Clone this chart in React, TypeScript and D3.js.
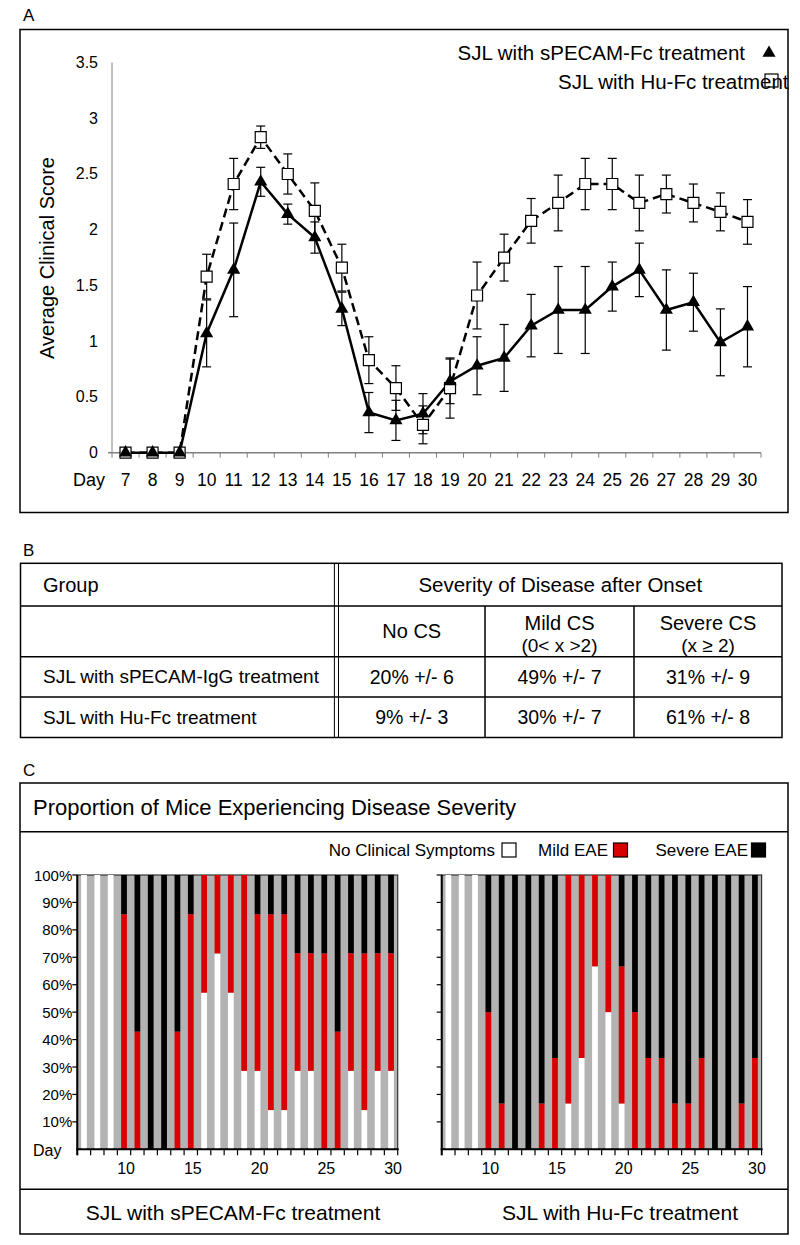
import React, { useEffect, useRef } from 'react';
import * as d3 from 'd3';

// ---- panel A: average clinical score ----
const days = [7, 8, 9, 10, 11, 12, 13, 14, 15, 16, 17, 18, 19, 20, 21, 22, 23, 24, 25, 26, 27, 28, 29, 30];
const fcMean = [0, 0, 0, 1.07, 1.64, 2.43, 2.14, 1.93, 1.29, 0.36, 0.29, 0.35, 0.64, 0.78, 0.85, 1.14, 1.28, 1.28, 1.49, 1.64, 1.28, 1.35, 0.99, 1.13];
const fcErr = [0, 0, 0, 0.3, 0.42, 0.13, 0.09, 0.14, 0.15, 0.18, 0.18, 0.18, 0.2, 0.26, 0.3, 0.28, 0.39, 0.39, 0.22, 0.24, 0.36, 0.26, 0.3, 0.36];
const huMean = [0, 0, 0, 1.58, 2.41, 2.83, 2.5, 2.17, 1.66, 0.83, 0.58, 0.25, 0.58, 1.41, 1.75, 2.08, 2.24, 2.41, 2.41, 2.24, 2.32, 2.24, 2.16, 2.07];
const huErr = [0, 0, 0, 0.2, 0.23, 0.1, 0.18, 0.25, 0.21, 0.21, 0.2, 0.17, 0.27, 0.3, 0.21, 0.2, 0.25, 0.23, 0.23, 0.25, 0.17, 0.17, 0.17, 0.2];
const scoreTicks = [0, 0.5, 1, 1.5, 2, 2.5, 3, 3.5];

// ---- panel B: table ----
const tableCols = ['No CS', 'Mild CS', 'Severe CS'];
const tableSub = ['', '(0< x >2)', '(x \u2265 2)'];
const tableRows = ['SJL with sPECAM-IgG treatment', 'SJL with Hu-Fc treatment'];
const tableVals = [
  ['20% +/- 6', '49% +/- 7', '31% +/- 9'],
  ['9% +/- 3', '30% +/- 7', '61% +/- 8'],
];

// ---- panel C: % of mice per severity (none, mild, severe) ----
const fcNone = [100, 100, 100, 0, 0, 0, 0, 0, 0, 57.1, 71.4, 57.1, 28.6, 28.6, 14.3, 14.3, 28.6, 28.6, 0, 0, 28.6, 14.3, 28.6, 28.6];
const fcMild = [0, 0, 0, 85.7, 42.9, 0, 0, 42.9, 85.7, 42.9, 28.6, 42.9, 71.4, 57.1, 71.4, 71.4, 42.9, 42.9, 71.4, 42.9, 42.9, 57.1, 42.9, 42.9];
const fcSevere = [0, 0, 0, 14.3, 57.1, 100, 100, 57.1, 14.3, 0, 0, 0, 0, 14.3, 14.3, 14.3, 28.6, 28.6, 28.6, 57.1, 28.6, 28.6, 28.6, 28.6];
const huNone = [100, 100, 100, 0, 0, 0, 0, 0, 0, 16.7, 33.3, 66.7, 50, 16.7, 0, 0, 0, 0, 0, 0, 0, 0, 0, 0];
const huMild = [0, 0, 0, 50, 16.7, 0, 0, 16.7, 33.3, 83.3, 66.7, 33.3, 50, 50, 50, 33.3, 33.3, 16.7, 16.7, 33.3, 0, 0, 16.7, 33.3];
const huSevere = [0, 0, 0, 50, 83.3, 100, 100, 83.3, 66.7, 0, 0, 0, 0, 33.3, 50, 66.7, 66.7, 83.3, 83.3, 66.7, 100, 100, 83.3, 66.7];
const pctTicks = [10, 20, 30, 40, 50, 60, 70, 80, 90, 100];
const dayLabels = [10, 15, 20, 25, 30];
const severityKeys = ['none', 'mild', 'severe'];
const severityColors = ['#ffffff', '#d80000', '#000000'];

const FONT = "'Liberation Sans', Arial, sans-serif";

const App: React.FC = () => {
  const ref = useRef<SVGSVGElement>(null);

  useEffect(() => {
    if (!ref.current) return;
    const svg = d3.select(ref.current);
    svg.selectAll('*').remove();

    const text = (g: any, x: number, y: number, s: string, size: number, anchor = 'start') =>
      g.append('text')
        .attr('x', x)
        .attr('y', y)
        .attr('font-size', size)
        .attr('text-anchor', anchor)
        .attr('dominant-baseline', 'central')
        .text(s);

    // ================= Panel A =================
    text(svg, 23, 15, 'A', 17);
    svg.append('rect')
      .attr('x', 20).attr('y', 29.5).attr('width', 768).attr('height', 483)
      .attr('fill', 'none').attr('stroke', '#000').attr('stroke-width', 1.5);

    const xA = d3.scaleBand<number>().domain(days).range([112, 761]);
    const yA = d3.scaleLinear().domain([0, 3.5]).range([452.7, 62.5]);
    const cx = (d: number) => (xA(d) as number) + xA.bandwidth() / 2;

    const gA = svg.append('g');
    // axes
    gA.append('line').attr('x1', 112).attr('x2', 112).attr('y1', yA(3.5)).attr('y2', yA(0))
      .attr('stroke', '#808080').attr('stroke-width', 1);
    gA.append('line').attr('x1', 108).attr('x2', 761).attr('y1', yA(0)).attr('y2', yA(0))
      .attr('stroke', '#808080').attr('stroke-width', 1.5);
    gA.selectAll('.xtick').data(d3.range(days.length + 1)).enter().append('line')
      .attr('x1', (i) => 112 + i * xA.step()).attr('x2', (i) => 112 + i * xA.step())
      .attr('y1', yA(0)).attr('y2', yA(0) + 5)
      .attr('stroke', '#808080').attr('stroke-width', 1);
    scoreTicks.forEach((t) => text(gA, 98, yA(t), String(t), 16, 'end'));
    days.forEach((d) => text(gA, cx(d), 480, String(d), 17.5, 'middle'));
    text(gA, 73, 480, 'Day', 18);
    text(gA, 0, 0, 'Average Clinical Score', 20, 'middle')
      .attr('transform', `translate(47,258) rotate(-90)`);

    const lineGen = (vals: number[]) =>
      d3.line<number>().x((_, i) => cx(days[i])).y((v) => yA(v))(vals);

    gA.append('path').attr('d', lineGen(huMean)).attr('fill', 'none')
      .attr('stroke', '#000').attr('stroke-width', 2.5).attr('stroke-dasharray', '9,5');
    gA.append('path').attr('d', lineGen(fcMean)).attr('fill', 'none')
      .attr('stroke', '#000').attr('stroke-width', 2.5);

    const errBars = (means: number[], errs: number[]) => {
      means.forEach((m, i) => {
        if (!errs[i]) return;
        const x = cx(days[i]);
        const y1 = yA(m + errs[i]);
        const y2 = yA(m - errs[i]);
        gA.append('line').attr('x1', x).attr('x2', x).attr('y1', y1).attr('y2', y2)
          .attr('stroke', '#000').attr('stroke-width', 1.2);
        [y1, y2].forEach((y) =>
          gA.append('line').attr('x1', x - 4.5).attr('x2', x + 4.5).attr('y1', y).attr('y2', y)
            .attr('stroke', '#000').attr('stroke-width', 1.2));
      });
    };
    errBars(huMean, huErr);
    errBars(fcMean, fcErr);

    const sq = d3.symbol().type(d3.symbolSquare).size(121)();
    const tri = d3.symbol().type(d3.symbolTriangle).size(75)();
    huMean.forEach((v, i) =>
      gA.append('path').attr('d', sq).attr('transform', `translate(${cx(days[i])},${yA(v)})`)
        .attr('fill', '#fff').attr('stroke', '#000').attr('stroke-width', 1.2));
    fcMean.forEach((v, i) =>
      gA.append('path').attr('d', tri).attr('transform', `translate(${cx(days[i])},${yA(v)})`)
        .attr('fill', '#000'));

    // legend
    text(gA, 745, 52, 'SJL with sPECAM-Fc treatment', 20.5, 'end');
    gA.append('path').attr('d', tri).attr('transform', 'translate(769,53)').attr('fill', '#000');
    text(gA, 558, 81, 'SJL with Hu-Fc treatment', 20.5, 'start');
    gA.append('rect').attr('x', 765).attr('y', 74).attr('width', 13).attr('height', 13)
      .attr('fill', 'none').attr('stroke', '#000').attr('stroke-width', 1.2);

    // ================= Panel B =================
    text(svg, 23, 550, 'B', 17);
    const gB = svg.append('g').attr('stroke', '#000');
    const tL = 20.5, tR = 782, rowY = [563.3, 606, 656.7, 697, 737.5];
    const colX = [338.5, 485, 634, tR];
    gB.append('rect').attr('x', tL).attr('y', rowY[0]).attr('width', tR - tL).attr('height', rowY[4] - rowY[0])
      .attr('fill', 'none').attr('stroke-width', 1.5);
    rowY.slice(1, 4).forEach((y) =>
      gB.append('line').attr('x1', tL).attr('x2', tR).attr('y1', y).attr('y2', y).attr('stroke-width', 1.5));
    [334.4, 338.5].forEach((x) =>
      gB.append('line').attr('x1', x).attr('x2', x).attr('y1', rowY[0]).attr('y2', rowY[4]).attr('stroke-width', 1));
    [485, 634].forEach((x) =>
      gB.append('line').attr('x1', x).attr('x2', x).attr('y1', rowY[1]).attr('y2', rowY[4]).attr('stroke-width', 1.5));
    const gBt = svg.append('g');
    text(gBt, 43, (rowY[0] + rowY[1]) / 2, 'Group', 20);
    text(gBt, (338.5 + tR) / 2, (rowY[0] + rowY[1]) / 2, 'Severity of Disease after Onset', 20.5, 'middle');
    tableCols.forEach((c, j) => {
      const mx = (colX[j] + colX[j + 1]) / 2;
      if (tableSub[j]) {
        text(gBt, mx, 622.7, c, 20, 'middle');
        text(gBt, mx, 645, tableSub[j], 19, 'middle');
      } else {
        text(gBt, mx, (rowY[1] + rowY[2]) / 2, c, 20, 'middle');
      }
    });
    tableRows.forEach((r, i) => {
      const my = (rowY[2 + i] + rowY[3 + i]) / 2;
      text(gBt, 43, my, r, 19);
      tableVals[i].forEach((v, j) => text(gBt, (colX[j] + colX[j + 1]) / 2, my, v, 19.5, 'middle'));
    });

    // ================= Panel C =================
    text(svg, 23, 770, 'C', 17);
    const gC = svg.append('g');
    gC.append('rect').attr('x', 20).attr('y', 783).attr('width', 768).attr('height', 451)
      .attr('fill', 'none').attr('stroke', '#000').attr('stroke-width', 1.5);
    [831.7, 1189.3].forEach((y) =>
      gC.append('line').attr('x1', 20).attr('x2', 788).attr('y1', y).attr('y2', y)
        .attr('stroke', '#000').attr('stroke-width', 1.5));
    text(gC, 33, 807, 'Proportion of Mice Experiencing Disease Severity', 22);

    // legend
    text(gC, 495, 850, 'No Clinical Symptoms', 17, 'end');
    gC.append('rect').attr('x', 502).attr('y', 843).attr('width', 14).attr('height', 14)
      .attr('fill', '#fff').attr('stroke', '#000').attr('stroke-width', 1.2);
    text(gC, 608, 850, 'Mild EAE', 17, 'end');
    gC.append('rect').attr('x', 613.5).attr('y', 843).attr('width', 14).attr('height', 14)
      .attr('fill', severityColors[1]).attr('stroke', '#000').attr('stroke-width', 1.2);
    text(gC, 748, 850, 'Severe EAE', 17, 'end');
    gC.append('rect').attr('x', 751.5).attr('y', 843).attr('width', 14).attr('height', 14)
      .attr('fill', '#000').attr('stroke', '#000').attr('stroke-width', 1.2);

    const yC = d3.scaleLinear().domain([0, 100]).range([1149.3, 875]);

    const drawBars = (x0: number, x1: number, none: number[], mild: number[], severe: number[], labels: boolean, title: string, titleX: number) => {
      const xC = d3.scaleBand<number>().domain(days).range([x0, x1]);
      const step = xC.step();
      const bw = step * 0.43;
      const g = gC.append('g');
      g.append('rect').attr('x', x0).attr('y', yC(100)).attr('width', x1 - x0).attr('height', yC(0) - yC(100))
        .attr('fill', '#b3b3b3').attr('stroke', '#333').attr('stroke-width', 1.2);

      const rows = days.map((d, i) => ({ day: d, none: none[i], mild: mild[i], severe: severe[i] }));
      const stack = d3.stack<any>().keys(severityKeys)(rows);
      stack.forEach((layer, k) => {
        g.selectAll(null).data(layer).enter().append('rect')
          .attr('x', (s: any) => (xC(s.data.day) as number) + step / 2 - bw / 2)
          .attr('width', bw)
          .attr('y', (s: any) => yC(s[1]))
          .attr('height', (s: any) => yC(s[0]) - yC(s[1]))
          .attr('fill', severityColors[k]);
      });

      // axes
      g.append('line').attr('x1', x0).attr('x2', x0).attr('y1', yC(100)).attr('y2', yC(0) + 6)
        .attr('stroke', '#000').attr('stroke-width', 2);
      g.append('line').attr('x1', x0 - 1).attr('x2', x1 + 1).attr('y1', yC(0)).attr('y2', yC(0))
        .attr('stroke', '#000').attr('stroke-width', 2);
      g.selectAll(null).data(d3.range(days.length + 1)).enter().append('line')
        .attr('x1', (i: number) => x0 + i * step).attr('x2', (i: number) => x0 + i * step)
        .attr('y1', yC(0)).attr('y2', yC(0) + 6)
        .attr('stroke', '#000').attr('stroke-width', 1.2);
      pctTicks.forEach((t) => {
        g.append('line').attr('x1', x0 - 5).attr('x2', x0).attr('y1', yC(t)).attr('y2', yC(t))
          .attr('stroke', '#000').attr('stroke-width', 1.2);
        if (labels) text(g, x0 - 5, yC(t), `${t}%`, 15, 'end');
      });
      if (labels) text(g, 33, 1150, 'Day', 16);
      dayLabels.forEach((d) => text(g, (xC(d) as number) + step / 2 + 2, 1168, String(d), 16, 'middle'));
      text(gC, titleX, 1212, title, 21, 'middle');
    };
    drawBars(77.3, 397.7, fcNone, fcMild, fcSevere, true, 'SJL with sPECAM-Fc treatment', 233);
    drawBars(441.7, 761.6, huNone, huMild, huSevere, false, 'SJL with Hu-Fc treatment', 620);
  }, []);

  return (
    <svg
      ref={ref}
      width={800}
      height={1245}
      style={{ position: 'absolute', left: 0, top: 0, background: '#fff', fontFamily: FONT }}
    />
  );
};

export default App;
